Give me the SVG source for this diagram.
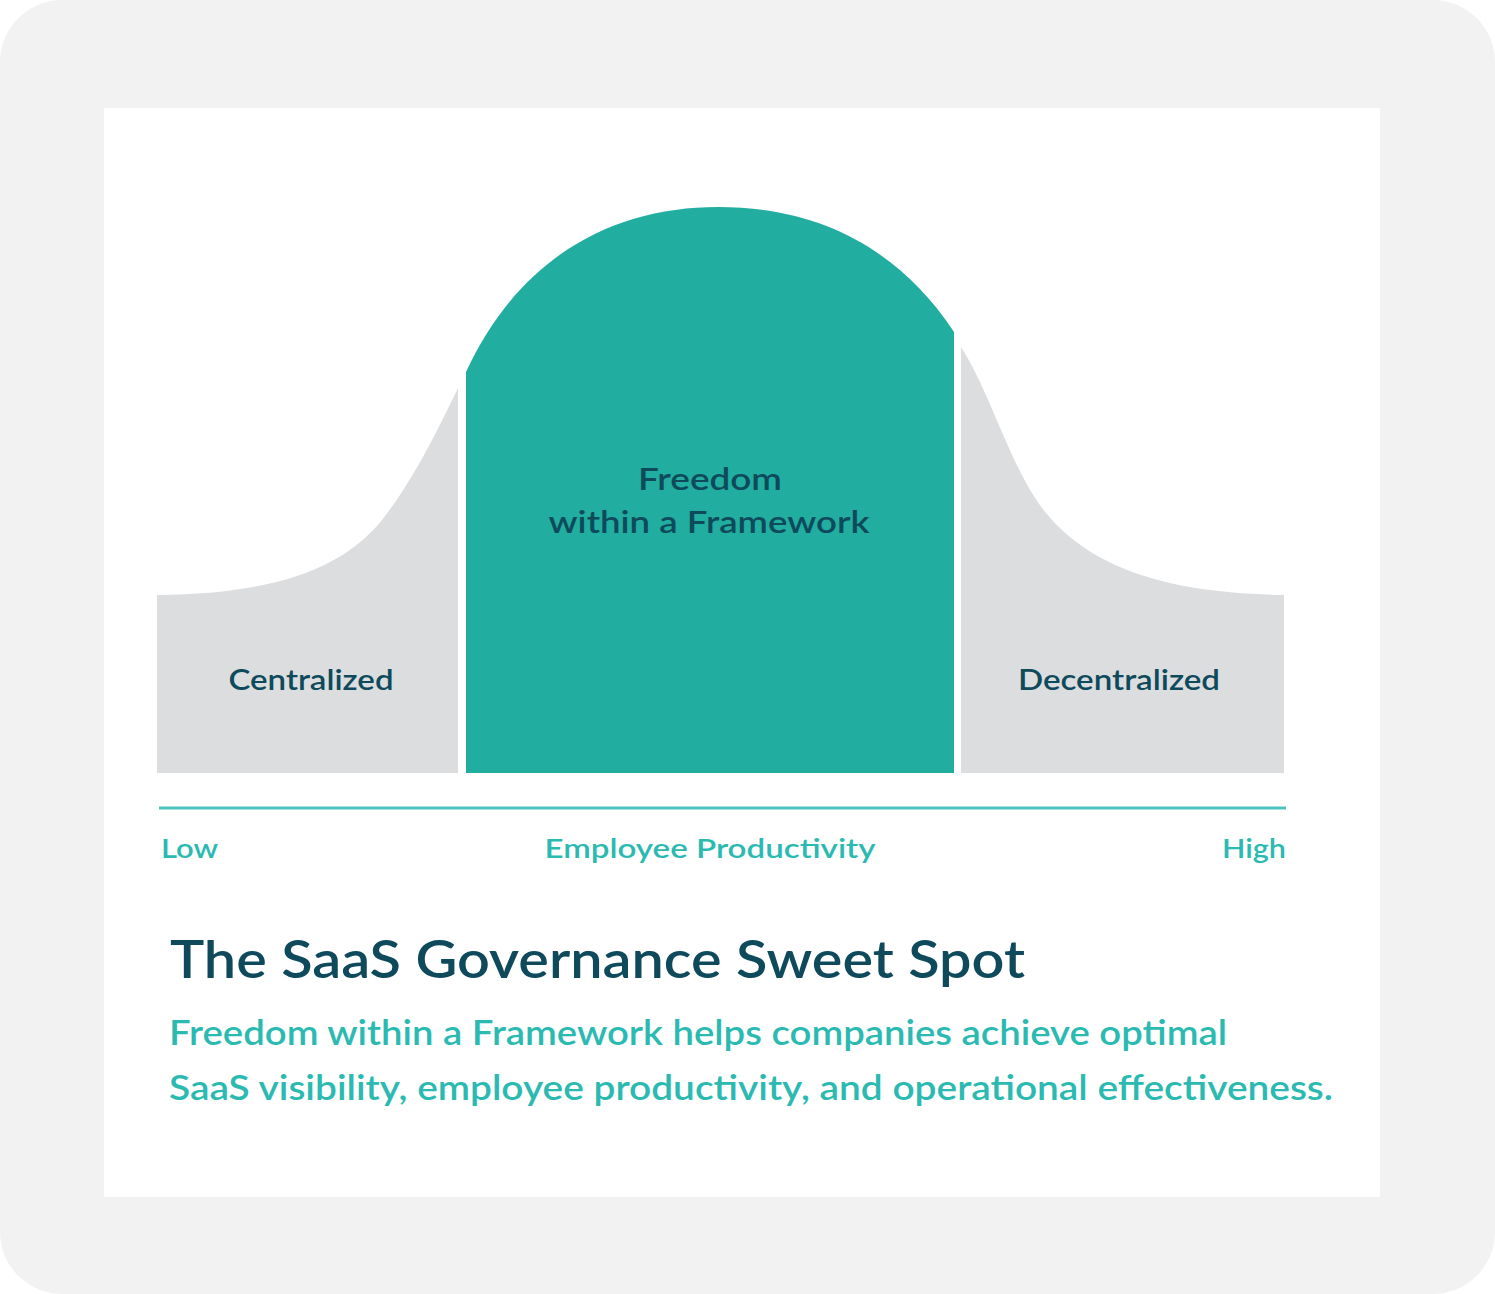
<svg xmlns="http://www.w3.org/2000/svg" width="1495" height="1294" viewBox="0 0 1495 1294">
<style>
.dark{fill:#0e4a5b;font-family:"Lato","Open Sans",sans-serif;font-weight:600}
.teal{fill:#2bbab1;font-family:"Lato","Open Sans",sans-serif;font-weight:600}
.mid{text-anchor:middle}
</style>
<rect x="0" y="0" width="1495" height="1294" fill="#ffffff"/>
<rect x="0" y="0" width="1495" height="1294" rx="62" ry="62" fill="#f2f2f2"/>
<rect x="104" y="108" width="1276" height="1089" fill="#ffffff"/>
<g id="centralized">
<path d="M157,773 L157,595 C280,594 345,566 382,520 C415,478 440,425 458,388 L458,773 Z" fill="#dcdddf"/>
<text class="dark mid" x="311" y="690" font-size="28" textLength="165" lengthAdjust="spacingAndGlyphs">Centralized</text>
</g>
<g id="freedom">
<path d="M466,773 L466,372 C520,255 615,207 718,207 C820,207 900,250 954,332 L954,773 Z" fill="#21ad9f"/>
<text class="dark mid" x="710" y="490" font-size="30" textLength="144" lengthAdjust="spacingAndGlyphs">Freedom</text>
<text class="dark mid" x="709" y="533" font-size="30" textLength="321" lengthAdjust="spacingAndGlyphs">within a Framework</text>
</g>
<g id="decentralized">
<path d="M961,773 L961,347 C990,392 1010,465 1042,508 C1090,570 1170,593 1284,595 L1284,773 Z" fill="#dcdddf"/>
<text class="dark mid" x="1119" y="690" font-size="28" textLength="202" lengthAdjust="spacingAndGlyphs">Decentralized</text>
</g>
<g id="connectors">
<line x1="159" y1="808" x2="1286" y2="808" stroke="#4cc5bd" stroke-width="3"/>
</g>
<g id="axis-labels">
<text class="teal" x="161" y="858" font-size="27" textLength="57" lengthAdjust="spacingAndGlyphs">Low</text>
<text class="teal mid" x="710" y="858" font-size="27" textLength="331" lengthAdjust="spacingAndGlyphs">Employee Productivity</text>
<text class="teal" x="1222" y="858" font-size="27" textLength="64" lengthAdjust="spacingAndGlyphs">High</text>
</g>
<g id="caption">
<text class="dark" x="170" y="978" font-size="52" textLength="855" lengthAdjust="spacingAndGlyphs">The SaaS Governance Sweet Spot</text>
<text class="teal" x="169" y="1045" font-size="34" font-weight="500" textLength="1058" lengthAdjust="spacingAndGlyphs">Freedom within a Framework helps companies achieve optimal</text>
<text class="teal" x="169" y="1100" font-size="34" font-weight="500" textLength="1164" lengthAdjust="spacingAndGlyphs">SaaS visibility, employee productivity, and operational effectiveness.</text>
</g>
</svg>
